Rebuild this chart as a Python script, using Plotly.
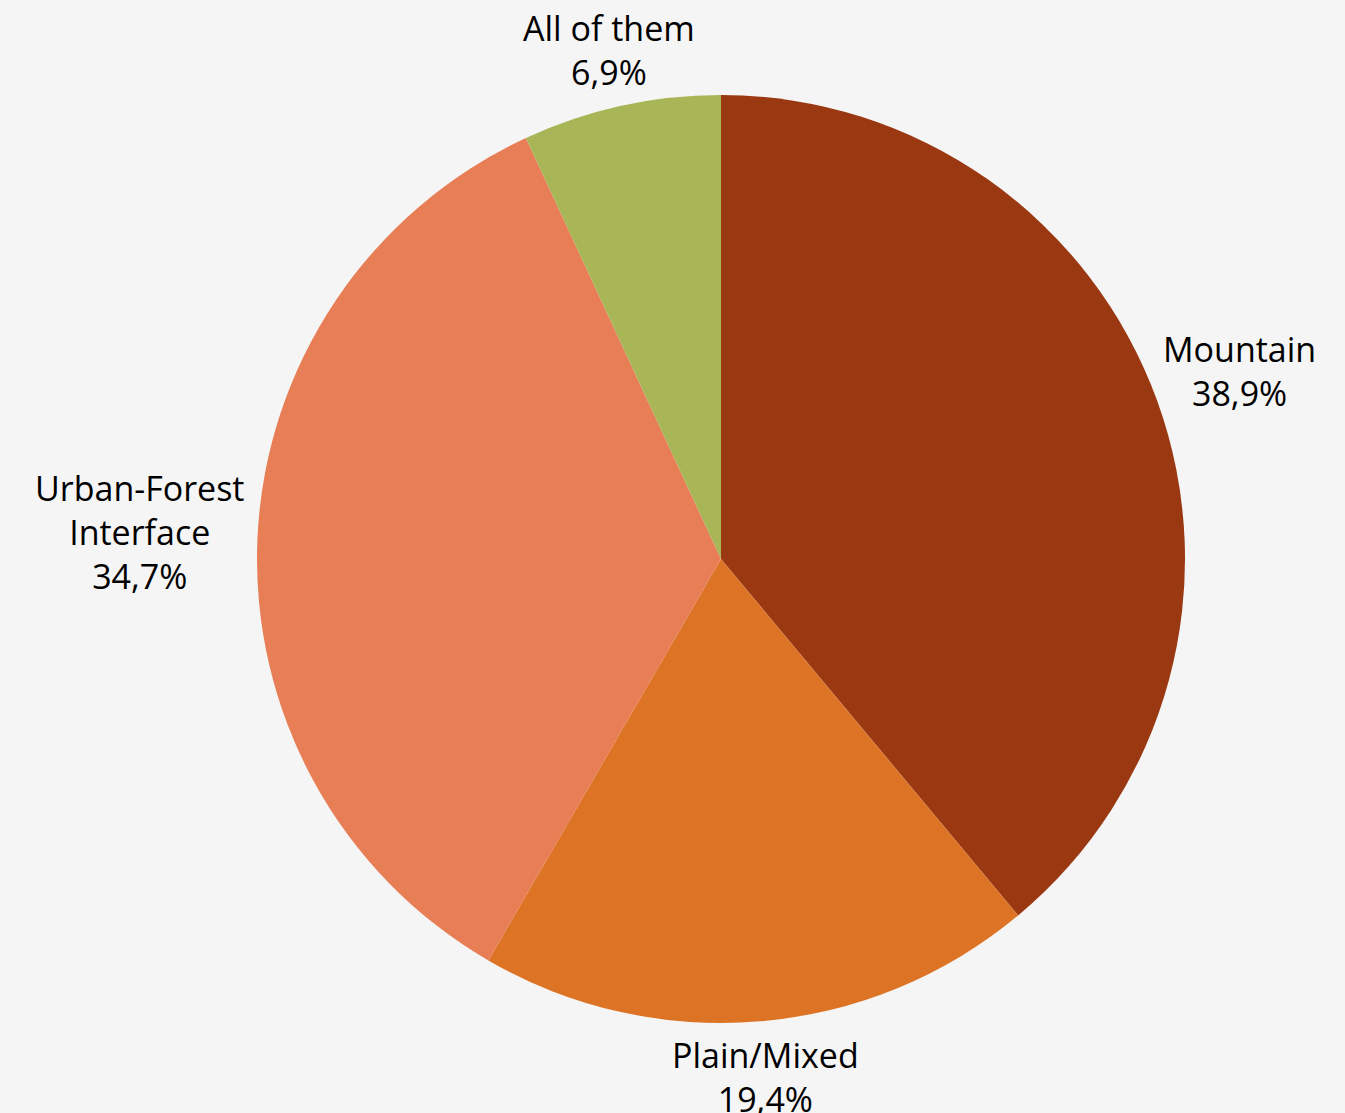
import math
import plotly.graph_objects as go

labels = ["Mountain", "Plain/Mixed", "Urban-Forest<br>Interface", "All of them"]
values = [38.9, 19.4, 34.7, 6.9]
value_text = ["38,9%", "19,4%", "34,7%", "6,9%"]
colors = ["#9A3812", "#DD7425", "#E87E55", "#A8B657"]

W, H = 1345, 1113
cx, cy, r = 721, 559, 464
FONT = "Open Sans"
FS = 34
CHAR_W = 0.52 * FS
LINE_H = 1.3 * FS
GAP = 12

fig = go.Figure(go.Pie(
    labels=labels,
    values=values,
    sort=False,
    direction="clockwise",
    rotation=0,
    marker=dict(colors=colors, line=dict(width=0)),
    textinfo="none",
    hoverinfo="label+value",
    showlegend=False,
    domain=dict(
        x=[(cx - r) / W, (cx + r) / W],
        y=[(H - cy - r) / H, (H - cy + r) / H],
    ),
))

# outside labels placed along each slice's mid-angle, just beyond the rim
total = sum(values)
cum = 0.0
annotations = []
for lab, val, vt in zip(labels, values, value_text):
    mid = (cum + val / 2) / total * 2 * math.pi
    cum += val
    sx, sy = math.sin(mid), -math.cos(mid)
    lines = lab.split("<br>") + [vt]
    hw = max(len(s) for s in lines) * CHAR_W / 2
    hh = len(lines) * LINE_H / 2
    d_edge = min(hw / abs(sx) if abs(sx) > 1e-9 else 1e9,
                 hh / abs(sy) if abs(sy) > 1e-9 else 1e9)
    D = r + GAP + d_edge
    px, py = cx + D * sx, cy + D * sy
    annotations.append(dict(
        x=px / W, y=1 - py / H, xref="paper", yref="paper",
        text=lab + "<br>" + vt, showarrow=False,
        xanchor="center", yanchor="middle", align="center",
        font=dict(family=FONT, size=FS, color="#000000"),
    ))

fig.update_layout(
    width=W, height=H,
    margin=dict(l=0, r=0, t=0, b=0, autoexpand=False),
    paper_bgcolor="#F5F5F5",
    plot_bgcolor="#F5F5F5",
    annotations=annotations,
)

fig.write_html("out.html")
